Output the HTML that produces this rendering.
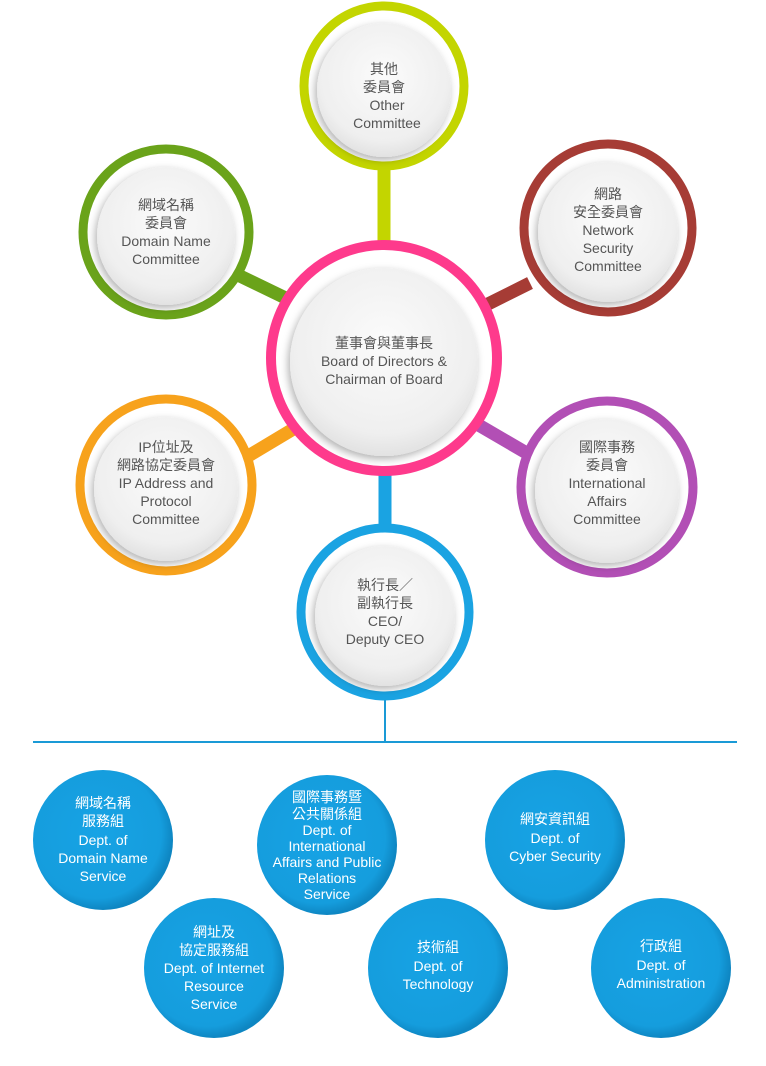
<!DOCTYPE html>
<html><head><meta charset="utf-8"><style>
html,body{margin:0;padding:0;background:#fff;}
svg{display:block;}
text{font-family:"Liberation Sans","Noto Sans CJK TC",sans-serif;font-size:14px;text-anchor:middle;}
.g text{fill:#555;}
.w text{fill:#fff;}
</style></head><body>
<svg width="766" height="1066" viewBox="0 0 766 1066" xmlns="http://www.w3.org/2000/svg">
<defs>
<radialGradient id="gr" cx="50%" cy="40%" r="60%">
<stop offset="0" stop-color="#fbfbfb"/><stop offset="0.8" stop-color="#efefef"/><stop offset="1" stop-color="#e2e2e2"/>
</radialGradient>
<radialGradient id="bl" cx="45%" cy="45%" r="55%">
<stop offset="0" stop-color="#17a3e5"/><stop offset="0.85" stop-color="#159ddd"/><stop offset="1" stop-color="#0e86c2"/>
</radialGradient>
<filter id="sh" x="-20%" y="-20%" width="140%" height="140%"><feDropShadow dx="-2" dy="3" stdDeviation="4" flood-color="#000" flood-opacity="0.3"/></filter>
</defs>
<!-- connectors -->
<line x1="384" y1="170" x2="384" y2="245" stroke="#c3d500" stroke-width="13"/>
<line x1="240" y1="276" x2="300" y2="305" stroke="#6aa31a" stroke-width="13"/>
<line x1="530" y1="283" x2="470" y2="313" stroke="#a63c35" stroke-width="13"/>
<line x1="250" y1="455" x2="300" y2="425" stroke="#f7a21c" stroke-width="13"/>
<line x1="530" y1="455" x2="470" y2="420" stroke="#b24fb5" stroke-width="13"/>
<line x1="385" y1="470" x2="385" y2="530" stroke="#1aa3e2" stroke-width="13"/>
<line x1="385" y1="700" x2="385" y2="742" stroke="#1a9ad6" stroke-width="2"/>
<line x1="33" y1="742" x2="737" y2="742" stroke="#1a9ad6" stroke-width="2"/>
<!-- rings -->
<g class="g">
<circle cx="384" cy="86" r="80" fill="#fff" stroke="#c3d500" stroke-width="9"/>
<circle cx="384" cy="90" r="67" fill="url(#gr)" filter="url(#sh)"/>
<text x="384" y="74">其他</text><text x="384" y="92">委員會</text><text x="387" y="110">Other</text><text x="387" y="128">Committee</text>

<circle cx="166" cy="232" r="83" fill="#fff" stroke="#6aa31a" stroke-width="9"/>
<circle cx="166" cy="236" r="69" fill="url(#gr)" filter="url(#sh)"/>
<text x="166" y="210">網域名稱</text><text x="166" y="228">委員會</text><text x="166" y="246">Domain Name</text><text x="166" y="264">Committee</text>

<circle cx="608" cy="228" r="84" fill="#fff" stroke="#a63c35" stroke-width="9"/>
<circle cx="608" cy="232" r="70" fill="url(#gr)" filter="url(#sh)"/>
<text x="608" y="199">網路</text><text x="608" y="217">安全委員會</text><text x="608" y="235">Network</text><text x="608" y="253">Security</text><text x="608" y="271">Committee</text>

<circle cx="166" cy="485" r="86" fill="#fff" stroke="#f7a21c" stroke-width="9"/>
<circle cx="166" cy="489" r="72" fill="url(#gr)" filter="url(#sh)"/>
<text x="166" y="452">IP位址及</text><text x="166" y="470">網路協定委員會</text><text x="166" y="488">IP Address and</text><text x="166" y="506">Protocol</text><text x="166" y="524">Committee</text>

<circle cx="607" cy="487" r="86" fill="#fff" stroke="#b24fb5" stroke-width="9"/>
<circle cx="607" cy="491" r="72" fill="url(#gr)" filter="url(#sh)"/>
<text x="607" y="452">國際事務</text><text x="607" y="470">委員會</text><text x="607" y="488">International</text><text x="607" y="506">Affairs</text><text x="607" y="524">Committee</text>

<circle cx="385" cy="612" r="84" fill="#fff" stroke="#1aa3e2" stroke-width="9"/>
<circle cx="385" cy="616" r="70" fill="url(#gr)" filter="url(#sh)"/>
<text x="385" y="590">執行長／</text><text x="385" y="608">副執行長</text><text x="385" y="626">CEO/</text><text x="385" y="644">Deputy CEO</text>

<circle cx="384" cy="358" r="113" fill="#fff" stroke="#fe3a8c" stroke-width="10"/>
<circle cx="384" cy="362" r="94" fill="url(#gr)" filter="url(#sh)"/>
<text x="384" y="348">董事會與董事長</text><text x="384" y="366">Board of Directors &amp;</text><text x="384" y="384">Chairman of Board</text>
</g>
<g class="w">
<circle cx="103" cy="840" r="70" fill="url(#bl)"/>
<text x="103" y="808">網域名稱</text><text x="103" y="826">服務組</text><text x="103" y="845">Dept. of</text><text x="103" y="863">Domain Name</text><text x="103" y="881">Service</text>

<circle cx="327" cy="845" r="70" fill="url(#bl)"/>
<text x="327" y="802">國際事務暨</text><text x="327" y="819">公共關係組</text><text x="327" y="835">Dept. of</text><text x="327" y="851">International</text><text x="327" y="867">Affairs and Public</text><text x="327" y="883">Relations</text><text x="327" y="899">Service</text>

<circle cx="555" cy="840" r="70" fill="url(#bl)"/>
<text x="555" y="824">網安資訊組</text><text x="555" y="843">Dept. of</text><text x="555" y="861">Cyber Security</text>

<circle cx="214" cy="968" r="70" fill="url(#bl)"/>
<text x="214" y="937">網址及</text><text x="214" y="955">協定服務組</text><text x="214" y="973">Dept. of Internet</text><text x="214" y="991">Resource</text><text x="214" y="1009">Service</text>

<circle cx="438" cy="968" r="70" fill="url(#bl)"/>
<text x="438" y="952">技術組</text><text x="438" y="971">Dept. of</text><text x="438" y="989">Technology</text>

<circle cx="661" cy="968" r="70" fill="url(#bl)"/>
<text x="661" y="951">行政組</text><text x="661" y="970">Dept. of</text><text x="661" y="988">Administration</text>
</g>
</svg>
</body></html>
